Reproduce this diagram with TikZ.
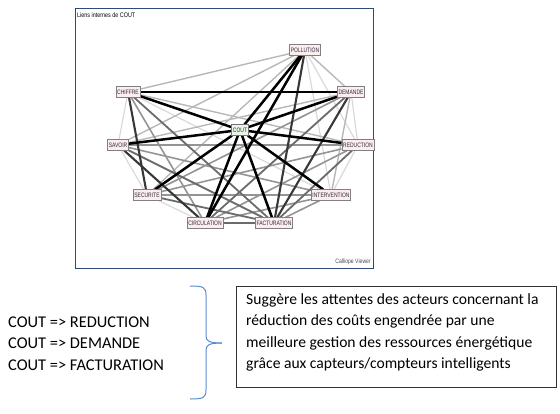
\documentclass[tikz,border=0pt]{standalone}
\usepackage{fontspec}
\setmainfont{Carlito}
\newfontfamily\gfont{Liberation Sans}
\usetikzlibrary{backgrounds}
\definecolor{pinkbg}{HTML}{FCEEEE}
\definecolor{greenbg}{HTML}{E8F6E8}
\definecolor{textc}{HTML}{2E2838}
\definecolor{framec}{HTML}{2E4A7C}
\definecolor{bracec}{HTML}{5B8AD0}
\newcommand{\nlab}[1]{\scalebox{0.78}[1]{#1}}
\begin{document}
\begin{tikzpicture}[x=1pt,y=-1pt,
  gnode/.style={draw=black!50, fill=pinkbg, line width=0.7pt, inner sep=1.3pt,
    font=\gfont\fontsize{6.4}{7}\selectfont, text=textc, minimum height=10.5pt},
  cnode/.style={gnode, fill=greenbg, draw=black!55},
  eA/.style={draw=black, line width=2.5pt},
  eB/.style={draw=black!78, line width=2.1pt},
  eC/.style={draw=black!58, line width=1.8pt},
  eD/.style={draw=black!42, line width=1.6pt},
  eE/.style={draw=black!28, line width=1.4pt},
  eF/.style={draw=black!15, line width=1.2pt},
  bodytext/.style={font=\fontsize{15.6}{21}\selectfont, text=black, anchor=west, inner sep=0pt},
  lefttext/.style={font=\fontsize{16.4}{21}\selectfont, text=black, anchor=west, inner sep=0pt}]
\useasboundingbox (0,0) rectangle (560,413);
% frame
\node[draw=framec, line width=1.2pt, minimum width=298pt, minimum height=260pt, anchor=north west, inner sep=0pt] (frame) at (75,8) {};
\node[font=\gfont\fontsize{6.6}{7}\selectfont, anchor=west, inner sep=0pt] (title) at (77,15) {\scalebox{0.82}[1]{Liens internes de COUT}};
\node[font=\gfont\fontsize{6.4}{7}\selectfont, text=black!70, anchor=east, inner sep=0pt] (viewer) at (371,262) {\scalebox{0.8}[1]{Calliope Viewer}};
% graph nodes
\node[gnode] (PO) at (305,50) {\nlab{POLLUTION}};
\node[gnode] (CH) at (128,92) {\nlab{CHIFFRE}};
\node[gnode] (DE) at (351,92) {\nlab{DEMANDE}};
\node[cnode] (CO) at (240,130) {\nlab{COUT}};
\node[gnode] (SA) at (118,145) {\nlab{SAVOIR}};
\node[gnode] (RE) at (358,145) {\nlab{REDUCTION}};
\node[gnode] (SE) at (147,195) {\nlab{SECURITE}};
\node[gnode] (IN) at (331,195) {\nlab{INTERVENTION}};
\node[gnode] (CI) at (205,223) {\nlab{CIRCULATION}};
\node[gnode] (FA) at (274,223) {\nlab{FACTURATION}};
\begin{scope}[on background layer]
  \foreach \a/\b in {CH/SA,SA/SE,RE/IN,PO/IN,DE/RE,CH/IN,PO/RE,SE/CI}
    \draw[eF] (\a) -- (\b);
  \foreach \a/\b in {CH/PO,PO/SA,CH/RE,DE/SA,PO/DE,DE/IN,PO/SE}
    \draw[eE] (\a) -- (\b);
  \foreach \a/\b in {SA/RE,SE/IN,CH/CI,SA/IN,RE/CI,DE/SE,FA/IN,CI/IN,RE/SE}
    \draw[eD] (\a) -- (\b);
  \foreach \a/\b in {CH/FA,SA/FA,CI/FA,DE/CI,RE/FA,SE/FA}
    \draw[eC] (\a) -- (\b);
  \foreach \a/\b in {CH/SE,PO/FA,DE/FA,SA/CI}
    \draw[eB] (\a) -- (\b);
  \foreach \a/\b in {CH/DE,CH/CO,PO/CO,PO/CI,DE/CO,SA/CO,CO/RE,CO/IN,CO/FA,CO/CI,CO/SE}
    \draw[eA] (\a) -- (\b);
\end{scope}
% lower part
\node[lefttext] (l1) at (8,322) {COUT => REDUCTION};
\node[lefttext] (l2) at (8,343.5) {COUT => DEMANDE};
\node[lefttext] (l3) at (8,365) {COUT => FACTURATION};
\coordinate (bt) at (190,286);
\coordinate (bb) at (190,399);
\coordinate (tip) at (222,343);
\draw[bracec, line width=1pt] (bt) .. controls (203,286) and (206,287) .. (206,295)
  -- (206,336) .. controls (206,341) and (209,343) .. (tip);
\draw[bracec, line width=1pt] (bb) .. controls (203,399) and (206,398) .. (206,390)
  -- (206,350) .. controls (206,345) and (209,343) .. (tip);
\node[draw=black!80, line width=0.9pt, anchor=north west, minimum width=320pt, minimum height=101pt, inner sep=0pt] (box) at (236,286) {};
\node[bodytext] (t1) at (246,300) {Suggère les attentes des acteurs concernant la};
\node[bodytext] (t2) at (246,321.5) {réduction des coûts engendrée par une};
\node[bodytext] (t3) at (246,343) {meilleure gestion des ressources énergétique};
\node[bodytext] (t4) at (246,364.5) {grâce aux capteurs/compteurs intelligents};
\end{tikzpicture}
\end{document}
